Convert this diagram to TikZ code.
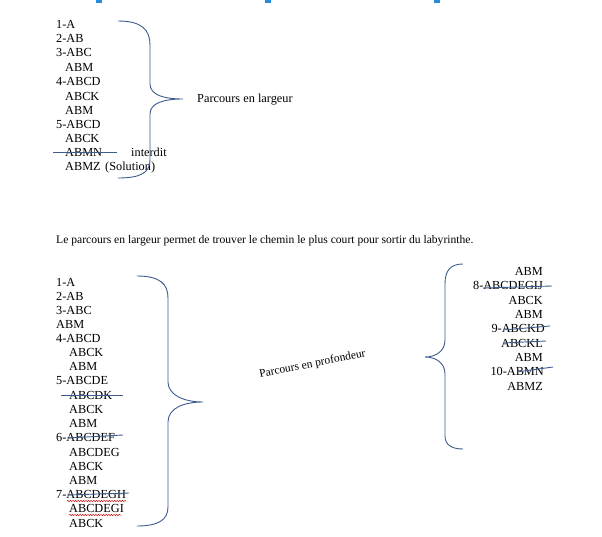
\documentclass[tikz,border=0pt]{standalone}
\usepackage{fontspec}
\setmainfont{Liberation Serif}
\usetikzlibrary{decorations.pathmorphing}
\definecolor{bracec}{HTML}{3E5C8E}
\definecolor{topblue}{HTML}{2A8AD6}
\begin{document}
\begin{tikzpicture}[x=1pt,y=-1pt,
  lst/.style={anchor=base west,inner sep=0pt,font=\fontsize{12.3}{14}\selectfont},
  rlst/.style={anchor=base east,inner sep=0pt,font=\fontsize{12.3}{14}\selectfont},
  bracel/.style={draw=bracec,line width=0.9pt},
  strike/.style={draw=bracec,line width=0.9pt},
  wavy/.style={draw=red!80!black,line width=0.5pt,decorate,decoration={snake,amplitude=0.6pt,segment length=2.6pt}}]
\useasboundingbox (0,0) rectangle (602,537);
\fill[white] (0,0) rectangle (602,537);
% top blue marks
\fill[topblue] (96,0) rectangle (102,3);
\fill[topblue] (265,0) rectangle (271,3);
\fill[topblue] (434,0) rectangle (440,3);
% first list
\node[lst] (a1) at (56,29) {1-A};
\node[lst] (a2) at (56,43) {2-AB};
\node[lst] (a3) at (56,57) {3-ABC};
\node[lst] (a4) at (65,72) {ABM};
\node[lst] (a5) at (56,86) {4-ABCD};
\node[lst] (a6) at (65,101) {ABCK};
\node[lst] (a7) at (65,115) {ABM};
\node[lst] (a8) at (56,129) {5-ABCD};
\node[lst] (a9) at (65,143) {ABCK};
\node[lst] (a10) at (65,157) {ABMN};
\node[lst] (a10b) at (131,157) {interdit};
\node[lst] (a11) at (65,171) {ABMZ\hspace{4.5pt}(Solution)};
\draw[strike] (53,152.5) -- (117,152.5);
\draw[bracel] (118,21) .. controls (142,21) and (150,30) .. (150,45) -- (150,84)
  .. controls (150,95) and (164,99) .. (183,99)
  .. controls (164,99) and (150,103) .. (150,114) -- (150,160)
  .. controls (150,173) and (140,178) .. (118,178);
\node[lst] (lg) at (197,103) {Parcours en largeur};
% sentence
\node[lst,font=\fontsize{11.6}{14}\selectfont] (sent) at (56,244) {Le parcours en largeur permet de trouver le chemin le plus court pour sortir du labyrinthe.};
% second list
\node[lst] (b1) at (56,287) {1-A};
\node[lst] (b2) at (56,300) {2-AB};
\node[lst] (b3) at (56,314) {3-ABC};
\node[lst] (b4) at (56,328) {ABM};
\node[lst] (b5) at (56,342) {4-ABCD};
\node[lst] (b6) at (69,356) {ABCK};
\node[lst] (b7) at (69,370) {ABM};
\node[lst] (b8) at (56,384) {5-ABCDE};
\node[lst] (b9) at (69,399) {ABCDK};
\node[lst] (b10) at (69,413) {ABCK};
\node[lst] (b11) at (69,427) {ABM};
\node[lst] (b12) at (56,441) {6-ABCDEF};
\node[lst] (b13) at (69,456) {ABCDEG};
\node[lst] (b14) at (69,470) {ABCK};
\node[lst] (b15) at (69,484) {ABM};
\node[lst] (b16) at (56,498) {7-ABCDEGH};
\node[lst] (b17) at (69,512) {ABCDEGI};
\node[lst] (b18) at (69,527) {ABCK};
\draw[strike] (61,395.5) -- (123,395.5);
\draw[strike] (67,438) -- (123,435);
\draw[strike] (67,495) -- (129,493);
\draw[wavy] (67,501) -- (126,501);
\draw[wavy] (69,515) -- (121,515);
\draw[bracel] (137,276) .. controls (160,276) and (168,284) .. (168,298) -- (168,382)
  .. controls (168,395) and (184,402) .. (203,402)
  .. controls (184,402) and (168,408) .. (168,422) -- (168,507)
  .. controls (168,520) and (158,526) .. (137,526);
\node[anchor=base,inner sep=0pt,rotate=11,font=\fontsize{11.5}{13}\selectfont] (pf) at (313,367) {Parcours en profondeur};
% right brace and list
\draw[bracel] (463,264) .. controls (450,264) and (445,271) .. (445,284) -- (445,340)
  .. controls (445,351) and (436,357) .. (425,357)
  .. controls (436,357) and (445,363) .. (445,374) -- (445,436)
  .. controls (445,445) and (452,449) .. (463,449);
\node[rlst] (c1) at (543,276) {ABM};
\node[rlst] (c2) at (543,290) {8-ABCDEGIJ};
\node[rlst] (c3) at (543,304) {ABCK};
\node[rlst] (c4) at (543,318) {ABM};
\node[rlst] (c5) at (545,332) {9-ABCKD};
\node[rlst] (c6) at (543,347) {ABCKL};
\node[rlst] (c7) at (543,361) {ABM};
\node[rlst] (c8) at (544,375) {10-ABMN};
\node[rlst] (c9) at (543,390) {ABMZ};
\draw[strike] (483,288) -- (552,286);
\draw[strike] (503,330) -- (550,326);
\draw[strike] (503,343) -- (546,341);
\draw[strike] (517,372) -- (553,367);
\end{tikzpicture}
\end{document}
